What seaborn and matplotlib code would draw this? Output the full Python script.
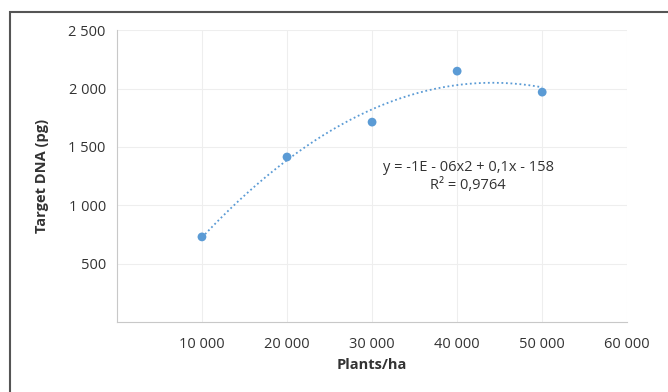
import numpy as np
import pandas as pd
import matplotlib.pyplot as plt
import seaborn as sns
from matplotlib.patches import Rectangle

# data
plants = [10000, 20000, 30000, 40000, 50000]
dna = [728, 1413, 1712, 2149, 1969]
x_ticks = [10000, 20000, 30000, 40000, 50000, 60000]
y_ticks = [500, 1000, 1500, 2000, 2500]
eq_text = "y = -1E - 06x2 + 0,1x - 158"
r2_text = "R² = 0,9764"

df = pd.DataFrame({"plants": plants, "dna": dna})

# second order trendline (like Excel)
coef = np.polyfit(df["plants"], df["dna"], 2)
xs = np.linspace(min(plants), max(plants), 200)
trend = pd.DataFrame({"plants": xs, "dna": np.polyval(coef, xs)})

sns.set_style("white")
plt.rcParams["font.family"] = ["Open Sans", "DejaVu Sans"]

fig = plt.figure(figsize=(6.68, 3.92), dpi=100)
ax = fig.add_axes([0.175, 0.179, 0.764, 0.744])

blue = "#5b9bd5"
sns.lineplot(data=trend, x="plants", y="dna", ax=ax, color=blue, lw=1.3, linestyle=(0, (1, 1.5)))
sns.scatterplot(data=df, x="plants", y="dna", ax=ax, color=blue, s=40, edgecolor="none", zorder=3)

ax.set_xlim(0, 60000)
ax.set_ylim(0, 2500)
ax.set_xticks(x_ticks)
ax.set_yticks(y_ticks)
fmt = lambda v: f"{v:,}".replace(",", " ")
ax.set_xticklabels([fmt(v) for v in x_ticks], fontsize=10.5, color="#333333")
ax.set_yticklabels([fmt(v) for v in y_ticks], fontsize=10.5, color="#333333")
ax.grid(True, color="#eeeeee", lw=0.8)
for s in ["top", "right"]:
    ax.spines[s].set_visible(False)
for s in ["left", "bottom"]:
    ax.spines[s].set_color("#c8c8c8")
    ax.spines[s].set_linewidth(0.8)
ax.tick_params(axis="both", length=4, color="#c8c8c8", direction="inout")
ax.tick_params(axis="x", pad=9)
ax.tick_params(axis="y", pad=6)

ax.set_xlabel("Plants/ha", fontsize=10.5, fontweight="bold", color="#333333", labelpad=4)
ax.set_ylabel("Target DNA (pg)", fontsize=10.5, fontweight="bold", color="#333333", labelpad=14)

ax.text(41300, 1320, eq_text, ha="center", va="center", fontsize=10.5, color="#333333")
ax.text(41300, 1165, r2_text, ha="center", va="center", fontsize=10.5, color="#333333")

# frame around the chart area (scanned figure border)
fig.patches.append(Rectangle((10 / 668, -0.1), 1.2, 1 - 12 / 392 + 0.1,
                             transform=fig.transFigure, fill=False,
                             edgecolor="#555555", lw=1.5))

fig.savefig("out.png", dpi=100)
